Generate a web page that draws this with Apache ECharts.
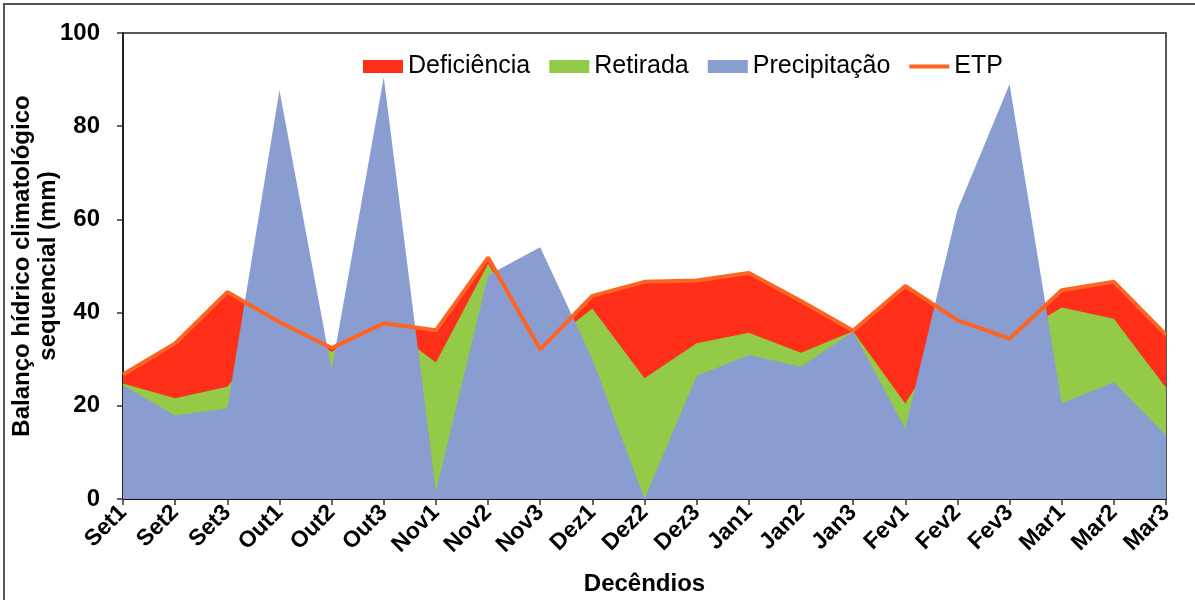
<!DOCTYPE html>
<html>
<head>
<meta charset="utf-8">
<script src="https://cdn.jsdelivr.net/npm/echarts@6/dist/echarts.min.js"></script>
<style>
  html, body { margin: 0; padding: 0; background: #fff; }
  #chart { width: 1195px; height: 600px; }
  #frame {
    position: absolute; left: 3px; top: 3px; width: 1200px; height: 600px;
    border-top: 2px solid #555; border-left: 2px solid #555; pointer-events: none;
  }
</style>
</head>
<body>
<div id="chart"></div>
<div id="frame"></div>
<script>
// decêndios (10-day periods)
const categories = ['Set1', 'Set2', 'Set3', 'Out1', 'Out2', 'Out3', 'Nov1', 'Nov2', 'Nov3',
  'Dez1', 'Dez2', 'Dez3', 'Jan1', 'Jan2', 'Jan3', 'Fev1', 'Fev2', 'Fev3', 'Mar1', 'Mar2', 'Mar3']

// ETP (top of the red area = deficiência)
const etp = [26.7, 33.4, 44.4, 38.0, 32.4, 37.7, 36.2, 51.8, 32.1, 43.6, 46.6,
  46.9, 48.5, 42.5, 36.1, 45.7, 38.4, 34.4, 44.8, 46.6, 35.2]

// precipitação + retirada (top of the green area)
const retirada = [24.8, 21.6, 24.1, 38.0, 31.6, 37.7, 29.3, 50.5, 32.1, 40.9, 25.9,
  33.4, 35.7, 31.4, 36.0, 20.5, 38.4, 34.4, 41.1, 38.7, 23.9]

// precipitação
const precipitacao = [24.4, 17.9, 19.4, 87.7, 27.7, 90.5, 1.6, 48.0, 54.0, 30.0, 0.1,
  26.4, 30.9, 28.4, 35.9, 15.1, 62.0, 89.0, 20.5, 25.1, 13.7]

const yTicks = { min: 0, max: 100, interval: 20 }

const font = 'Liberation Sans, Arial, sans-serif'

function areaSeries(name, data, color) {
  return {
    name: name,
    type: 'line',
    data: data,
    symbol: 'none',
    color: color,
    lineStyle: { width: 0 },
    areaStyle: { color: color, opacity: 1 },
    emphasis: { disabled: true }
  }
}

const chart = echarts.init(document.getElementById('chart'))

chart.setOption({
  animation: false,
  textStyle: { fontFamily: font },
  grid: {
    left: 123,
    right: 29,
    top: 33,
    bottom: 101,
    outerBoundsMode: 'none',
    containLabel: false,
    show: true,
    borderColor: '#222',
    borderWidth: 1.5
  },
  legend: {
    left: 358,
    top: 49,
    itemWidth: 40,
    itemHeight: 13,
    itemGap: 19,
    textStyle: { fontSize: 25, color: '#000', fontFamily: font },
    data: [
      { name: 'Deficiência', icon: 'rect' },
      { name: 'Retirada', icon: 'rect' },
      { name: 'Precipitação', icon: 'rect' },
      { name: 'ETP', icon: 'path://M0,0 L40,0 L40,4 L0,4 Z' }
    ]
  },
  xAxis: {
    type: 'category',
    data: categories,
    boundaryGap: false,
    name: 'Decêndios',
    nameLocation: 'middle',
    nameGap: 73,
    nameMoveOverlap: false,
    nameTextStyle: { fontSize: 24, fontWeight: 'bold', color: '#000', fontFamily: font },
    axisLine: { lineStyle: { color: '#111', width: 2 } },
    axisTick: { show: true, length: 6, alignWithLabel: true, lineStyle: { color: '#333', width: 1.5 } },
    axisLabel: {
      interval: 0,
      rotate: 45,
      margin: 10,
      fontSize: 23,
      fontWeight: 'bold',
      color: '#000',
      fontFamily: font
    },
    splitLine: { show: false }
  },
  yAxis: {
    type: 'value',
    min: yTicks.min,
    max: yTicks.max,
    interval: yTicks.interval,
    name: 'Balanço hídrico climatológico\nsequencial (mm)',
    nameLocation: 'middle',
    nameGap: 62,
    nameMoveOverlap: false,
    nameTextStyle: { fontSize: 24, fontWeight: 'bold', color: '#000', lineHeight: 26, fontFamily: font },
    axisLine: { show: true, lineStyle: { color: '#222', width: 2 } },
    axisTick: { show: true, length: 6, lineStyle: { color: '#333', width: 1.5 } },
    axisLabel: { margin: 23, fontSize: 24, fontWeight: 'bold', color: '#000', fontFamily: font },
    splitLine: { show: false }
  },
  series: [
    areaSeries('Deficiência', etp, '#FF2F19'),
    areaSeries('Retirada', retirada, '#93CA47'),
    areaSeries('Precipitação', precipitacao, '#8A9DD0'),
    {
      name: 'ETP',
      type: 'line',
      data: etp,
      symbol: 'none',
      color: '#FF6422',
      lineStyle: { color: '#FF6422', width: 4 },
      z: 5,
      emphasis: { disabled: true }
    }
  ]
})
</script>
</body>
</html>
